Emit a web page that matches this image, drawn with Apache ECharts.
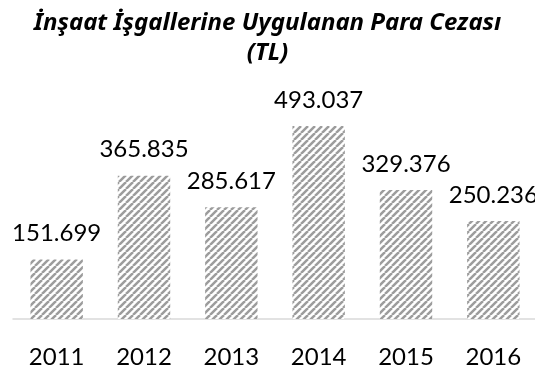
<!DOCTYPE html>
<html>
<head>
<meta charset="utf-8">
<script src="https://cdn.jsdelivr.net/npm/echarts@6/dist/echarts.min.js"></script>
<style>
  html, body { margin: 0; padding: 0; background: #fff; }
  #chart { width: 535px; height: 367px; }
</style>
</head>
<body>
<div id="chart"></div>
<script>
// Yearly fines for construction encroachments (TL)
const years = ['2011', '2012', '2013', '2014', '2015', '2016'];
const fines = [151.699, 365.835, 285.617, 493.037, 329.376, 250.236];

// Diagonal hatch tile used to fill the bars
function hatchTile() {
  const s = 7;
  const c = document.createElement('canvas');
  c.width = s; c.height = s;
  const g = c.getContext('2d');
  g.fillStyle = '#ffffff';
  g.fillRect(0, 0, s, s);
  g.strokeStyle = '#9c9c9c';
  g.lineWidth = 2.5;
  for (const o of [-s, 0, s]) {
    g.beginPath();
    g.moveTo(o, s);
    g.lineTo(o + s, 0);
    g.stroke();
  }
  return c;
}

const chart = echarts.init(document.getElementById('chart'), null, { renderer: 'canvas' });
const font = 'Lato, "Liberation Sans", sans-serif';
const titleFont = '"Noto Sans", "Open Sans", sans-serif';

chart.setOption({
  animation: false,
  backgroundColor: '#ffffff',
  title: {
    text: 'İnşaat İşgallerine Uygulanan Para Cezası\n(TL)',
    left: 'center',
    top: 3,
    padding: [5, 0, 5, 10],
    textStyle: {
      fontFamily: titleFont,
      fontSize: 24,
      fontWeight: 'bold',
      fontStyle: 'italic',
      color: '#000',
      lineHeight: 30
    }
  },
  grid: { left: 13, right: -2, top: 84, bottom: 48, containLabel: false, outerBoundsMode: 'none' },
  xAxis: {
    type: 'category',
    data: years,
    axisLine: { show: true, lineStyle: { color: '#d9d9d9', width: 1.5 } },
    axisTick: { show: false },
    axisLabel: { fontFamily: font, fontSize: 24, color: '#000', margin: 26 }
  },
  yAxis: {
    type: 'value',
    min: 0,
    max: 600,
    show: false,
    splitLine: { show: false }
  },
  series: [{
    type: 'bar',
    data: fines,
    barWidth: '60%',
    itemStyle: { color: { image: hatchTile(), repeat: 'repeat' } },
    label: {
      show: true,
      position: 'top',
      distance: 14,
      fontFamily: font,
      fontSize: 24,
      color: '#000',
      formatter: p => p.value.toFixed(3)
    }
  }]
});
</script>
</body>
</html>
